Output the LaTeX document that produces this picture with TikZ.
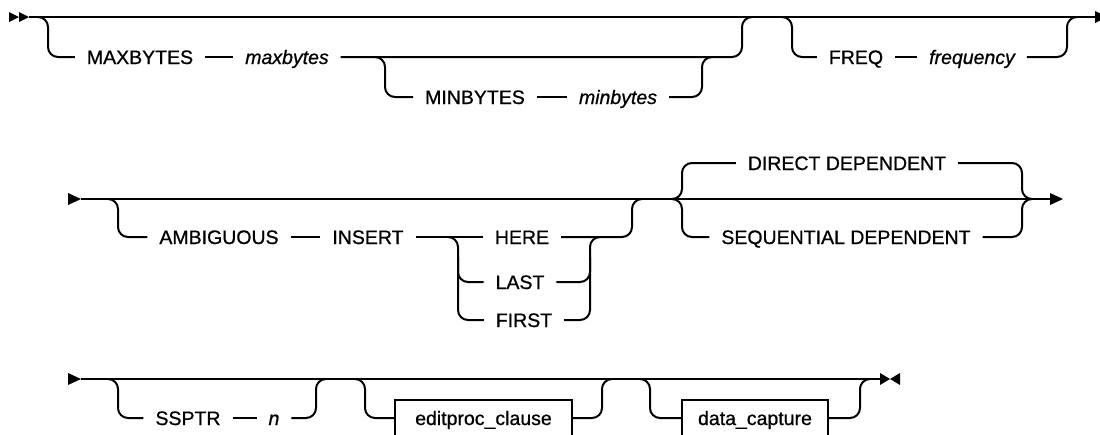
\documentclass[tikz,border=0pt]{standalone}
\usepackage{fontspec}
\setsansfont{Liberation Sans}[UprightFeatures={FakeBold=0.8}, ItalicFeatures={FakeBold=0.8}]
\tikzset{
  every picture/.style={font=\sffamily\fontsize{19.5}{23}\selectfont, line width=2pt},
  kw/.style={inner xsep=11pt, inner ysep=0pt, text height=14pt, text depth=0pt},
  var/.style={kw, font=\sffamily\itshape\fontsize{19.5}{23}\selectfont},
  clause/.style={kw, draw, line width=1.8pt, inner ysep=11pt, minimum height=36pt},
  rail/.style={rounded corners=10pt},
}

\begin{document}
\begin{tikzpicture}[x=1pt, y=-1pt]
  \useasboundingbox (0,0) rectangle (1100,434);
  \clip (0,0) rectangle (1100,434);

  % row 1
  \coordinate (r1in) at (29,17);
  \coordinate (r1out) at (1095,17);
  \fill (r1in) -- ++(-10,-5) -- ++(0,10) -- cycle;
  \fill ([xshift=-10pt]r1in) -- ++(-10,-5) -- ++(0,10) -- cycle;
  \draw (r1in) -- (r1out);
  \fill (r1out) -- ++(0,-6) -- ++(12,6) -- ++(-12,6) -- cycle;

  \node[kw] (maxkw) at (140,57) {MAXBYTES};
  \node[var] (maxv) at (287,57) {maxbytes};
  \coordinate (g1a) at (48,17);
  \coordinate (g1b) at (742,17);
  \draw[rail] ([xshift=-10pt]g1a) -- (g1a) |- (maxkw.west);
  \draw (maxkw) -- (maxv);
  \draw[rail] (maxv.east) -| (g1b) -- ([xshift=10pt]g1b);

  \node[kw] (minkw) at (475,97) {MINBYTES};
  \node[var] (minv) at (618,97) {minbytes};
  \coordinate (g2a) at (385,57);
  \coordinate (g2b) at (702,57);
  \draw[rail] ([xshift=-10pt]g2a) -- (g2a) |- (minkw.west);
  \draw (minkw) -- (minv);
  \draw[rail] (minv.east) -| (g2b) -- ([xshift=10pt]g2b);

  \node[kw] (freqkw) at (856,57) {FREQ};
  \node[var] (freqv) at (972,57) {frequency};
  \coordinate (g3a) at (792,17);
  \coordinate (g3b) at (1067,17);
  \draw[rail] ([xshift=-10pt]g3a) -- (g3a) |- (freqkw.west);
  \draw (freqkw) -- (freqv);
  \draw[rail] (freqv.east) -| (g3b) -- ([xshift=10pt]g3b);

  % row 2
  \coordinate (r2in) at (81,199);
  \coordinate (r2out) at (1050,199);
  \fill (r2in) -- ++(-13,-6) -- ++(0,12) -- cycle;
  \draw (r2in) -- (r2out);
  \fill (r2out) -- ++(0,-6) -- ++(13,6) -- ++(-13,6) -- cycle;

  \node[kw] (ambkw) at (219,237) {AMBIGUOUS};
  \node[kw] (inskw) at (368,237) {INSERT};
  \node[kw] (here) at (522,237) {HERE};
  \node[kw] (last) at (520,282) {LAST};
  \node[kw] (first) at (524,320) {FIRST};
  \coordinate (g4a) at (118,199);
  \coordinate (g4b) at (632,199);
  \coordinate (g5a) at (458,237);
  \coordinate (g5b) at (590,237);
  \draw[rail] ([xshift=-10pt]g4a) -- (g4a) |- (ambkw.west);
  \draw (ambkw) -- (inskw);
  \draw (inskw) -- (here);
  \draw[rail] (here.east) -| (g4b) -- ([xshift=10pt]g4b);
  \draw[rail] ([xshift=-10pt]g5a) -- (g5a) |- (first.west);
  \draw[rail] ([yshift=-20pt]g5a) |- (last.west);
  \draw[rail] (first.east) -| (g5b) -- ([xshift=10pt]g5b);
  \draw[rail] (last.east) -| ([yshift=-20pt]g5b);

  \node[kw] (dir) at (847,163) {DIRECT DEPENDENT};
  \node[kw] (seq) at (846,237) {SEQUENTIAL DEPENDENT};
  \coordinate (g6a) at (682,199);
  \coordinate (g6b) at (1022,199);
  \draw[rail] ([xshift=-10pt]g6a) -- (g6a) |- (dir.west);
  \draw[rail] ([xshift=-10pt]g6a) -- (g6a) |- (seq.west);
  \draw[rail] (dir.east) -| (g6b) -- ([xshift=10pt]g6b);
  \draw[rail] (seq.east) -| (g6b) -- ([xshift=10pt]g6b);

  % row 3
  \coordinate (r3in) at (81,379);
  \coordinate (r3out) at (880,379);
  \fill (r3in) -- ++(-13,-6) -- ++(0,12) -- cycle;
  \draw (r3in) -- (r3out);
  \fill (r3out) -- ++(0,-6) -- ++(10,6) -- ++(-10,6) -- cycle;
  \fill ([xshift=20pt]r3out) -- ++(0,-6) -- ++(-10,6) -- ++(10,6) -- cycle;

  \node[kw] (ssptr) at (188,418) {SSPTR};
  \node[var] (nval) at (274,418) {n};
  \coordinate (g7a) at (118,379);
  \coordinate (g7b) at (316,379);
  \draw[rail] ([xshift=-10pt]g7a) -- (g7a) |- (ssptr.west);
  \draw (ssptr) -- (nval);
  \draw[rail] (nval.east) -| (g7b) -- ([xshift=10pt]g7b);

  \node[clause, minimum width=177pt] (edit) at (483.5,418) {editproc\_clause};
  \coordinate (g8a) at (365,379);
  \coordinate (g8b) at (602,379);
  \draw[rail] ([xshift=-10pt]g8a) -- (g8a) |- (edit.west);
  \draw[rail] (edit.east) -| (g8b) -- ([xshift=10pt]g8b);

  \node[clause, minimum width=146pt] (dcap) at (755,418) {data\_capture};
  \coordinate (g9a) at (650,379);
  \coordinate (g9b) at (860,379);
  \draw[rail] ([xshift=-10pt]g9a) -- (g9a) |- (dcap.west);
  \draw[rail] (dcap.east) -| (g9b) -- ([xshift=10pt]g9b);
\end{tikzpicture}
\end{document}
